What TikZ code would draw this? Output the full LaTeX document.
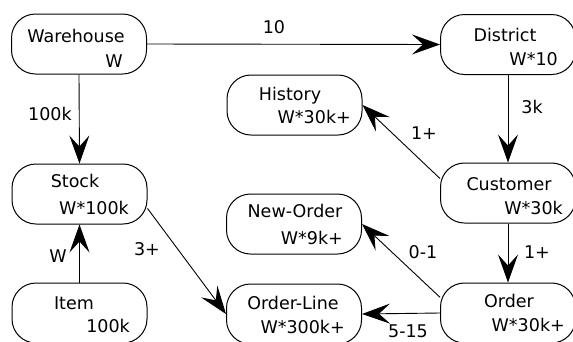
\documentclass[tikz,border=0pt]{standalone}
\usepackage{fontspec}
\setmainfont{DejaVu Sans}
\usetikzlibrary{arrows.meta}
\begin{document}
\begin{tikzpicture}[x=1pt,y=-1pt,
  font=\fontsize{17.5}{20}\selectfont,
  box/.style={draw,line width=1pt,rounded corners=24pt,minimum width=135pt,minimum height=60pt,inner sep=0pt},
  txt/.style={inner sep=0pt,anchor=base},
  rtxt/.style={inner sep=0pt,anchor=base east},
  lbl/.style={inner sep=0pt,anchor=base},
  conn/.style={line width=0.9pt,-{Stealth[length=28pt,width=20pt,inset=11pt]}}]
\useasboundingbox (0,0) rectangle (573,341);
\clip (0,0) rectangle (573,341);
% boxes
\node[box] (wh) at (79,44) {};
\node[box] (di) at (508,44.5) {};
\node[box] (hi) at (294.5,105) {};
\node[box] (st) at (79.5,194) {};
\node[box] (it) at (79.5,313) {};
\node[box] (no) at (294,224) {};
\node[box] (ol) at (294,314) {};
\node[box] (cu) at (508,193) {};
\node[box] (or) at (508,313) {};
% texts
\node[txt] (t1) at (76,42) {Warehouse};
\node[rtxt] (t2) at (123,67) {W};
\node[txt] (t3) at (505,41.5) {District};
\node[rtxt] (t4) at (558,65) {W*10};
\node[txt] (t5) at (290,100) {History};
\node[rtxt] (t6) at (351,123) {W*30k+};
\node[txt] (t7) at (75,187) {Stock};
\node[rtxt] (t8) at (129,214) {W*100k};
\node[txt] (t9) at (74,309) {Item};
\node[rtxt] (t10) at (130,332) {100k};
\node[txt] (t11) at (295,217) {New-Order};
\node[rtxt] (t12) at (343,244) {W*9k+};
\node[txt] (t13) at (293,309) {Order-Line};
\node[rtxt] (t14) at (345,333) {W*300k+};
\node[txt] (t15) at (509,190) {Customer};
\node[rtxt] (t16) at (563,214) {W*30k};
\node[txt] (t17) at (509,307) {Order};
\node[rtxt] (t18) at (565,331) {W*30k+};
% connectors
\draw[conn] (wh.east) -- (di.west);
\draw[conn] (wh.south) -- (st.north);
\draw[conn] (di.south) -- (cu.north);
\draw[conn] (cu.168) -- (hi.east);
\draw[conn] (cu.south) -- (or.north);
\draw[conn] (or.167) -- (no.east);
\draw[conn] (or.west) -- (ol.west -| no.east);
\draw[conn] (st.-12) -- (ol.west);
\draw[conn] (it.north) -- (st.south);
% edge labels
\node[lbl] (l1) at (274,33) {10};
\node[lbl] (l2) at (50,120) {100k};
\node[lbl] (l3) at (532,113) {3k};
\node[lbl] (l4) at (424,139) {1+};
\node[lbl] (l5) at (537,258) {1+};
\node[lbl] (l6) at (423,258) {0-1};
\node[lbl] (l7) at (408,337) {5-15};
\node[lbl] (l8) at (147,255) {3+};
\node[lbl] (l9) at (58,262) {W};
\end{tikzpicture}
\end{document}
